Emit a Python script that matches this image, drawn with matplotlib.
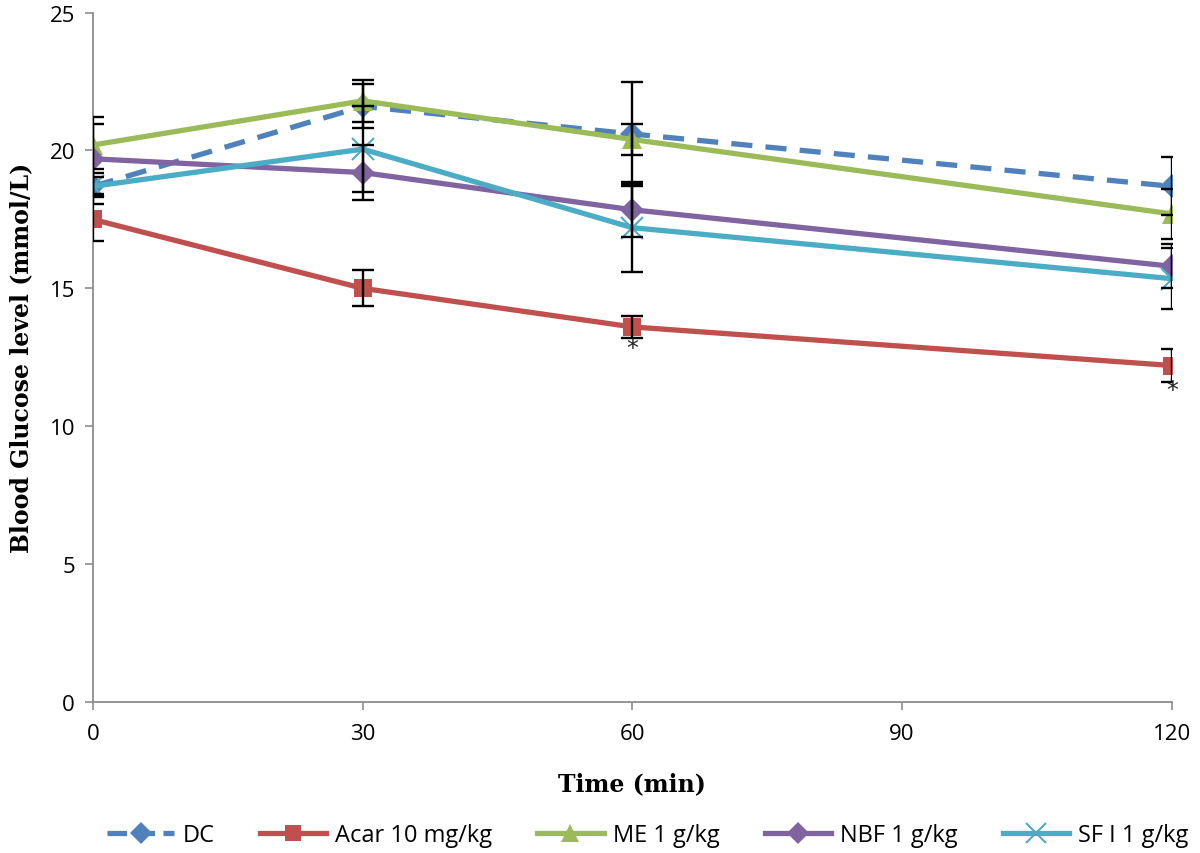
import matplotlib
matplotlib.use("Agg")
import matplotlib.pyplot as plt
from matplotlib.lines import Line2D

time = [0, 30, 60, 120]
series_names = ["DC", "Acar 10 mg/kg", "ME 1 g/kg", "NBF 1 g/kg", "SF I 1 g/kg"]
dc = [18.7, 21.6, 20.6, 18.7]
dc_err = [0.35, 0.8, 1.9, 1.05]
acar = [17.5, 15.0, 13.6, 12.2]
acar_err = [0.8, 0.65, 0.4, 0.6]
me = [20.2, 21.8, 20.4, 17.7]
me_err = [1.0, 0.75, 0.55, 0.9]
nbf = [19.7, 19.2, 17.85, 15.8]
nbf_err = [1.27, 1.0, 1.0, 0.8]
sfi = [18.7, 20.05, 17.2, 15.35]
sfi_err = [0.63, 1.55, 1.6, 1.1]
star_x = [60, 120]
star_y = [12.85, 11.3]

colors = ["#4f81bd", "#c0504d", "#9bbb59", "#8064a2", "#4bacc6"]
markers = ["D", "s", "^", "D", "x"]
msizes = [12, 13, 14, 12, 16]
styles = ["--", "-", "-", "-", "-"]
data = [dc, acar, me, nbf, sfi]
errs = [dc_err, acar_err, me_err, nbf_err, sfi_err]

fig = plt.figure(figsize=(12, 8.54), dpi=100)
ax = fig.add_axes([0.0775, 0.177, 0.899, 0.807])

handles = []
for i in range(5):
    mew = 1.5 if markers[i] == "x" else 0
    ax.plot(time, data[i], linestyle=styles[i], color=colors[i], lw=3.8,
            marker=markers[i], ms=msizes[i], mec=colors[i], mew=mew, zorder=3,
            dashes=(4, 2.5) if styles[i] == "--" else (None, None))
    ax.errorbar(time, data[i], yerr=errs[i], fmt="none", ecolor="black",
                elinewidth=1.7, capsize=8, capthick=1.7, zorder=4)
    handles.append(Line2D([0], [0], linestyle=styles[i], color=colors[i], lw=3.8,
                          marker=markers[i], ms=msizes[i] * 0.9, mec=colors[i], mew=mew))

for x, y in zip(star_x, star_y):
    ax.text(x, y, "*", ha="center", va="center", fontsize=17, color="#222222",
            family="DejaVu Sans", zorder=5)

ax.set_xlim(0, 120)
ax.set_ylim(0, 25)
ax.set_xticks([0, 30, 60, 90, 120])
ax.set_yticks([0, 5, 10, 15, 20, 25])
for s in ["top", "right"]:
    ax.spines[s].set_visible(False)
for s in ["left", "bottom"]:
    ax.spines[s].set_color("#8c8c8c")
    ax.spines[s].set_linewidth(1.3)
ax.tick_params(axis="both", colors="#8c8c8c", length=6, width=1.2,
               labelsize=16, labelcolor="black", direction="out")
for lab in ax.get_xticklabels() + ax.get_yticklabels():
    lab.set_family("Open Sans")
ax.tick_params(axis="x", pad=9)
ax.tick_params(axis="y", pad=7)
for sp in ax.spines.values():
    sp.set_clip_on(False)

ax.set_xlabel("Time (min)", fontsize=17, fontweight="bold", family="DejaVu Serif", labelpad=20)
ax.set_ylabel("Blood Glucose level (mmol/L)", fontsize=17, fontweight="bold",
              family="DejaVu Serif", labelpad=12)

fig.legend(handles, series_names, loc="center", bbox_to_anchor=(0.54, 0.021), ncol=5,
           frameon=False, handlelength=2.8, columnspacing=1.9,
           handletextpad=0.4, prop={"family": "Open Sans", "size": 17})

fig.savefig("out.png", dpi=100)
